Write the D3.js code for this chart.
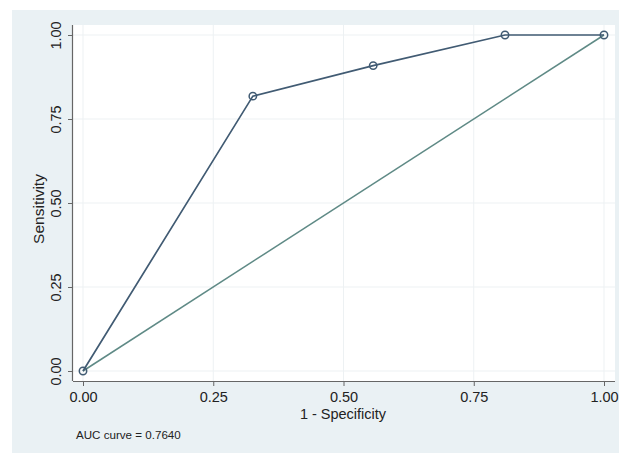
<!DOCTYPE html>
<html>
<head>
<meta charset="UTF-8">
<script src="https://cdn.jsdelivr.net/npm/d3@7"></script>
<style>
  body { margin: 0; background: #fff; }
  text { font-family: "Liberation Sans", Arial, sans-serif; fill: #222; }
</style>
</head>
<body>
<div id="chart"></div>
<script>
// ROC curve points (1 - specificity, sensitivity)
const fpr = [0, 0.326, 0.557, 0.81, 1];
const tpr = [0, 0.818, 0.909, 1, 1];
const ticks = [0, 0.25, 0.5, 0.75, 1];
const aucText = "AUC curve = 0.7640";

const W = 619, H = 453;
const svg = d3.select("#chart").append("svg")
    .attr("width", W).attr("height", H);

// outer graph region
svg.append("rect").attr("x", 12).attr("y", 10)
    .attr("width", W - 12).attr("height", H - 10)
    .attr("fill", "#eaf1f4");

// plot region
const plot = { left: 73, top: 25, right: 615, bottom: 381 };
svg.append("rect").attr("x", plot.left).attr("y", plot.top)
    .attr("width", plot.right - plot.left).attr("height", plot.bottom - plot.top)
    .attr("fill", "#fff");

const x = d3.scaleLinear().domain([0, 1]).range([83, 604]);
const y = d3.scaleLinear().domain([0, 1]).range([371, 35]);

// grid
svg.append("g").selectAll("line").data(ticks).join("line")
    .attr("x1", plot.left).attr("x2", plot.right)
    .attr("y1", d => y(d)).attr("y2", d => y(d))
    .attr("stroke", "#edf1f3").attr("stroke-width", 1);
svg.append("g").selectAll("line").data(ticks).join("line")
    .attr("y1", plot.top).attr("y2", plot.bottom)
    .attr("x1", d => x(d)).attr("x2", d => x(d))
    .attr("stroke", "#edf1f3").attr("stroke-width", 1);

// axes
const fmt = d3.format(".2f");
const xAxis = svg.append("g").attr("transform", `translate(0,${plot.bottom})`)
    .call(d3.axisBottom(x).tickValues(ticks).tickFormat(fmt).tickSize(5).tickSizeOuter(0));
xAxis.select(".domain").attr("d", `M${plot.left},0.5H${plot.right}`);
const yAxis = svg.append("g").attr("transform", `translate(${plot.left},0)`)
    .call(d3.axisLeft(y).tickValues(ticks).tickFormat(fmt).tickSize(5).tickSizeOuter(0));
yAxis.select(".domain").attr("d", `M-0.5,${plot.top}V${plot.bottom}`);

[xAxis, yAxis].forEach(a => {
  a.select(".domain").attr("stroke", "#666").attr("stroke-width", 1.2);
  a.selectAll(".tick line").attr("stroke", "#666");
  a.selectAll(".tick text").attr("font-size", 14.5).attr("fill", "#222")
      .attr("font-family", "Liberation Sans, Arial, sans-serif");
});
xAxis.selectAll(".tick text").attr("y", 21).attr("dy", 0);
yAxis.selectAll(".tick text")
    .attr("x", 0).attr("y", 0).attr("dy", 0)
    .attr("text-anchor", "middle")
    .attr("transform", "translate(-12,0) rotate(-90)");

// reference line
svg.append("line")
    .attr("x1", x(0)).attr("y1", y(0)).attr("x2", x(1)).attr("y2", y(1))
    .attr("stroke", "#5f8a86").attr("stroke-width", 1.5);

// ROC curve
const pts = fpr.map((f, i) => [f, tpr[i]]);
svg.append("path").datum(pts)
    .attr("d", d3.line().x(d => x(d[0])).y(d => y(d[1])))
    .attr("fill", "none").attr("stroke", "#415b73").attr("stroke-width", 1.7);
svg.append("g").selectAll("circle").data(pts).join("circle")
    .attr("cx", d => x(d[0])).attr("cy", d => y(d[1])).attr("r", 3.7)
    .attr("fill", "none").attr("stroke", "#415b73").attr("stroke-width", 1.5);

// titles
svg.append("text").attr("x", 343).attr("y", 419).attr("text-anchor", "middle")
    .attr("font-size", 14.5).text("1 - Specificity");
svg.append("text").attr("transform", `translate(44,${(plot.top + plot.bottom) / 2 + 6}) rotate(-90)`)
    .attr("text-anchor", "middle").attr("font-size", 15.5).text("Sensitivity");
svg.append("text").attr("x", 76).attr("y", 439).attr("font-size", 11.6).text(aucText);
</script>
</body>
</html>
